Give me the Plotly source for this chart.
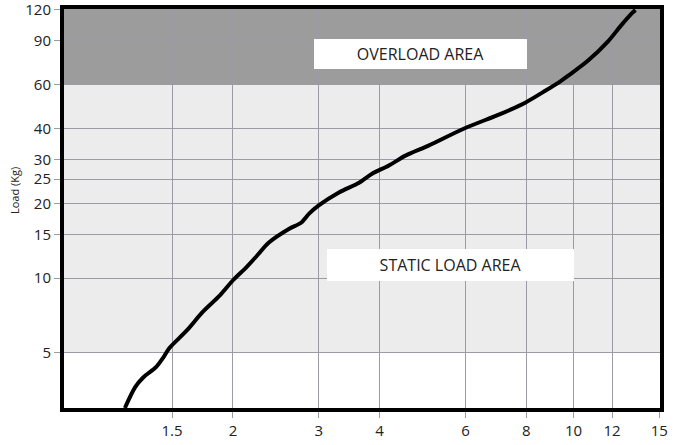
import numpy as np
import plotly.graph_objects as go

# curve (x unitless, load in kg)
curve_x = [1.20, 1.26, 1.31, 1.39, 1.44, 1.48, 1.61, 1.73, 1.88, 2.00, 2.13, 2.24,
           2.37, 2.61, 2.76, 2.87, 3.00, 3.30, 3.63, 3.86, 4.18, 4.52, 5.04, 5.95,
           7.11, 7.96, 8.75, 9.43, 9.75, 10.7, 11.8, 12.5, 13.2, 13.4]
curve_y = [3.0, 3.64, 3.99, 4.38, 4.80, 5.22, 6.17, 7.28, 8.52, 9.80, 11.05, 12.3,
           13.9, 15.8, 16.7, 18.2, 19.6, 22.1, 24.2, 26.3, 28.4, 31.1, 34.1, 39.9,
           45.9, 50.8, 56.7, 62.2, 65.2, 74.9, 90.1, 103.5, 116.7, 120]

x_ticks = [1.5, 2, 3, 4, 6, 8, 10, 12, 15]
y_ticks = [5, 10, 15, 20, 25, 30, 40, 60, 90, 120]

static_band = (5, 60)
overload_band = (60, 121)

fig = go.Figure()
fig.add_trace(
    go.Scatter(
        x=curve_x,
        y=curve_y,
        mode="lines",
        line=dict(color="black", width=4, shape="spline", smoothing=0.8),
        showlegend=False
    )
)

fig.add_shape(type="rect", xref="paper", yref="y", x0=0, x1=1,
              y0=static_band[0], y1=static_band[1],
              fillcolor="#ececec", line_width=0, layer="below")
fig.add_shape(type="rect", xref="paper", yref="y", x0=0, x1=1,
              y0=overload_band[0], y1=overload_band[1],
              fillcolor="#9c9c9c", line_width=0, layer="below")

label_font = dict(family="Open Sans", size=16, color="#222222")
fig.add_annotation(text="OVERLOAD AREA", xref="paper", yref="paper",
                   x=0.598, y=0.887, xanchor="center", yanchor="middle",
                   showarrow=False, font=label_font,
                   bgcolor="white", width=213, height=30,
                   borderpad=0, borderwidth=0)
fig.add_annotation(text="STATIC LOAD AREA", xref="paper", yref="paper",
                   x=0.6485, y=0.358, xanchor="center", yanchor="middle",
                   showarrow=False, font=label_font,
                   bgcolor="white", width=247, height=32,
                   borderpad=0, borderwidth=0)
fig.add_annotation(text="Load (Kg)", xref="paper", yref="paper",
                   x=-0.082, y=0.544, xanchor="center", yanchor="middle",
                   showarrow=False, textangle=-90,
                   font=dict(family="Open Sans", size=11, color="#222222"))

axis_style = dict(
    type="log",
    automargin=False,
    showgrid=True,
    gridcolor="#9b9ba3",
    gridwidth=1,
    showline=True,
    linecolor="black",
    linewidth=4,
    mirror=True,
    ticks="outside",
    ticklen=6,
    tickcolor="#9b9ba3",
    ticklabeloverflow="allow",
    tickfont=dict(family="Open Sans", size=15, color="#222222"),
    zeroline=False
)

fig.update_xaxes(axis_style, range=[np.log10(0.9), np.log10(15.05)],
                 tickvals=x_ticks, ticktext=[str(v) for v in x_ticks])
fig.update_yaxes(axis_style, range=[np.log10(3), np.log10(121)],
                 tickvals=y_ticks, ticktext=[str(v) for v in y_ticks])

fig.update_layout(
    width=674,
    height=445,
    margin=dict(l=64, r=14, t=9, b=37),
    plot_bgcolor="white",
    paper_bgcolor="white"
)

fig.write_html("out.html", config={"displayModeBar": False},
               post_script="document.body.style.margin='0';")
